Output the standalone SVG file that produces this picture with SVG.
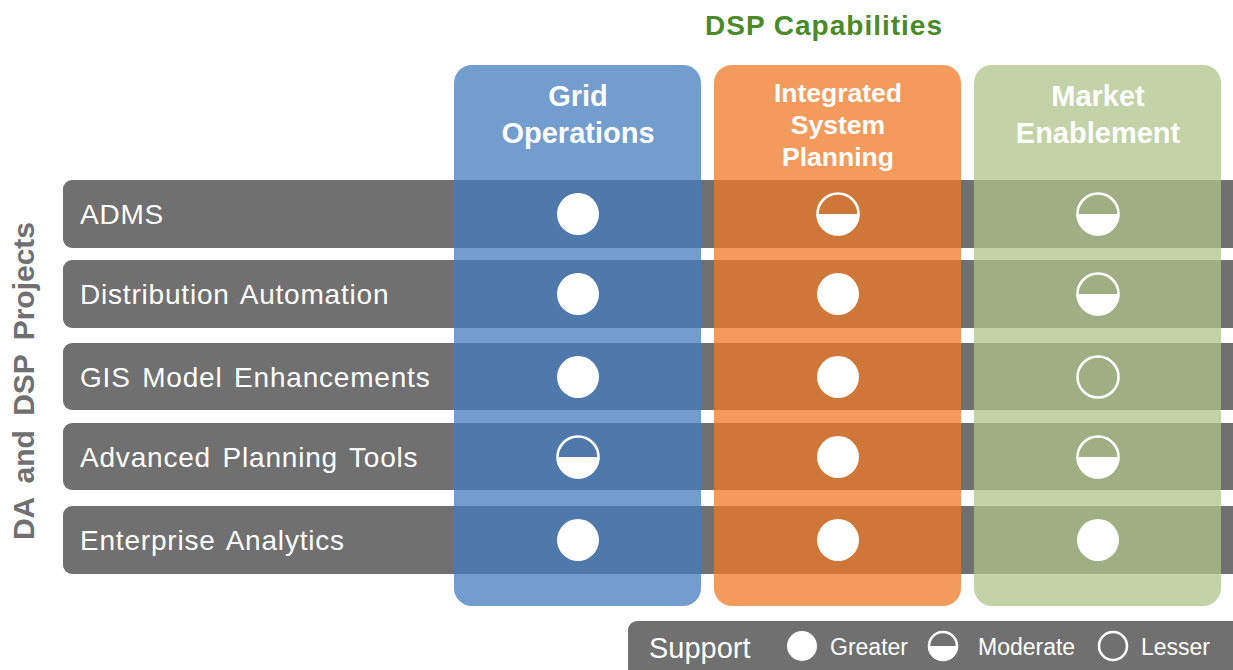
<svg xmlns="http://www.w3.org/2000/svg" width="1233" height="670" viewBox="0 0 1233 670">
<style>
.row{fill:#707070}
.rl{font-family:"Liberation Sans",Arial,sans-serif;font-size:28px;fill:#fff;letter-spacing:0.8px;word-spacing:3px}
.hd{font-family:"Liberation Sans",Arial,sans-serif;font-weight:bold;fill:#fff;text-anchor:middle}
.col{opacity:0.75}
.full{fill:#fff}
.empty{fill:none;stroke:#fff;stroke-width:2.5}
.lg{font-family:"Liberation Sans",Arial,sans-serif;fill:#fff}
</style>
<defs>
<g id="full"><circle r="21" class="full"/></g>
<g id="mod"><circle r="20.5" class="empty"/><path d="M-21.5,0 A21.5,21.5 0 0 0 21.5,0 Z" fill="#fff"/></g>
<g id="less"><circle r="20.5" class="empty"/></g>
</defs>
<rect width="1233" height="670" fill="#fff"/>
<text x="824" y="35" font-family="Liberation Sans,Arial,sans-serif" font-weight="bold" font-size="28" letter-spacing="1" fill="#4a8a2a" text-anchor="middle">DSP Capabilities</text>
<text transform="translate(34,381) rotate(-90)" font-family="Liberation Sans,Arial,sans-serif" font-weight="bold" font-size="30" fill="#707070" text-anchor="middle" word-spacing="6">DA and DSP Projects</text>
<g id="rows">
<g id="row-adms"><rect class="row" x="63" y="180" width="1190" height="68" rx="9"/><text class="rl" x="80" y="224">ADMS</text></g>
<g id="row-da"><rect class="row" x="63" y="260" width="1190" height="68" rx="9"/><text class="rl" x="80" y="304">Distribution Automation</text></g>
<g id="row-gis"><rect class="row" x="63" y="343" width="1190" height="67" rx="9"/><text class="rl" x="80" y="387">GIS Model Enhancements</text></g>
<g id="row-apt"><rect class="row" x="63" y="423" width="1190" height="67" rx="9"/><text class="rl" x="80" y="467">Advanced Planning Tools</text></g>
<g id="row-ea"><rect class="row" x="63" y="506" width="1190" height="68" rx="9"/><text class="rl" x="80" y="550">Enterprise Analytics</text></g>
</g>
<g id="col-grid"><rect class="col" x="454" y="65" width="247" height="541" rx="18" fill="#447cbf"/>
<text class="hd" font-size="29" x="578" y="106">Grid</text><text class="hd" font-size="29" x="578" y="143">Operations</text></g>
<g id="col-isp"><rect class="col" x="714" y="65" width="247" height="541" rx="18" fill="#ef7a26"/>
<text class="hd" font-size="26.5" x="838" y="102">Integrated</text><text class="hd" font-size="26.5" x="838" y="134">System</text><text class="hd" font-size="26.5" x="838" y="166">Planning</text></g>
<g id="col-me"><rect class="col" x="974" y="65" width="247" height="541" rx="18" fill="#b0c389"/>
<text class="hd" font-size="29" x="1098" y="106">Market</text><text class="hd" font-size="29" x="1098" y="143">Enablement</text></g>
<g id="marks">
<use href="#full" x="578" y="214"/><use href="#mod" x="838" y="214"/><use href="#mod" x="1098" y="214"/>
<use href="#full" x="578" y="294"/><use href="#full" x="838" y="294"/><use href="#mod" x="1098" y="294"/>
<use href="#full" x="578" y="377"/><use href="#full" x="838" y="377"/><use href="#less" x="1098" y="377"/>
<use href="#mod" x="578" y="457"/><use href="#full" x="838" y="457"/><use href="#mod" x="1098" y="457"/>
<use href="#full" x="578" y="540"/><use href="#full" x="838" y="540"/><use href="#full" x="1098" y="540"/>
</g>
<g id="legend">
<rect class="row" x="628" y="621" width="620" height="60" rx="9"/>
<text class="lg" font-size="29" x="649" y="658">Support</text>
<circle cx="802" cy="646" r="15" fill="#fff"/>
<text class="lg" font-size="23" x="830" y="655">Greater</text>
<circle cx="943" cy="646" r="14" fill="none" stroke="#fff" stroke-width="2.5"/>
<path d="M928,646 A15,15 0 0 0 958,646 Z" fill="#fff"/>
<text class="lg" font-size="23" x="978" y="655">Moderate</text>
<circle cx="1113" cy="646" r="14" fill="none" stroke="#fff" stroke-width="2.5"/>
<text class="lg" font-size="23" x="1141" y="655">Lesser</text>
</g>
</svg>
